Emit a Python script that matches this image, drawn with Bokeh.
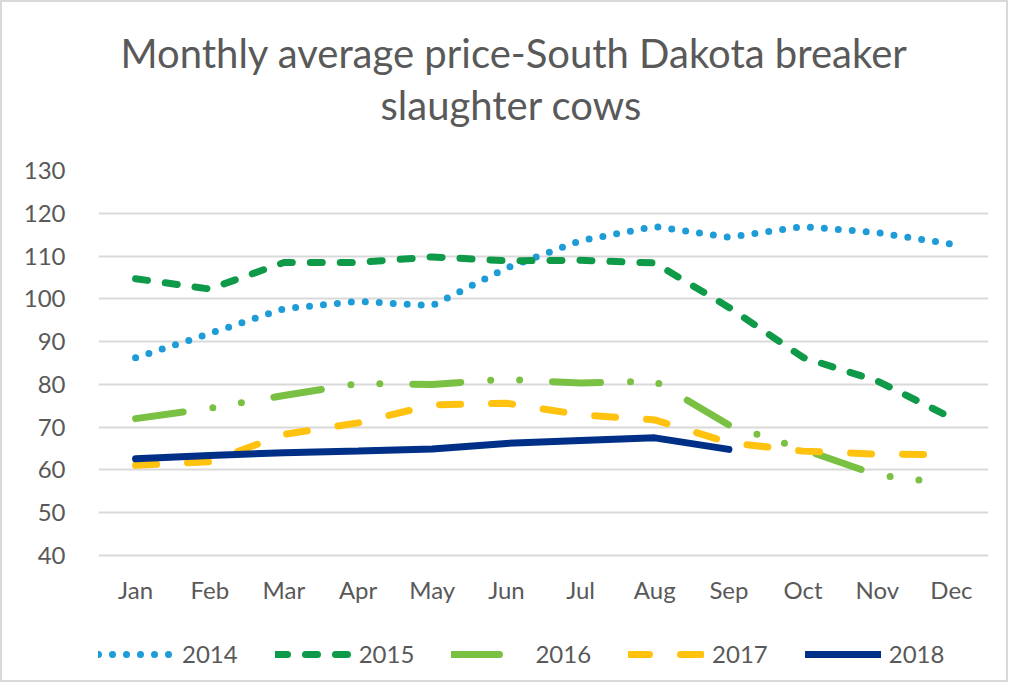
from bokeh.plotting import figure
from bokeh.models import FactorRange, Range1d, FixedTicker, Legend, LegendItem, Title
from bokeh.core.properties import value
from bokeh.embed import file_html
from bokeh.resources import INLINE

months = ["Jan", "Feb", "Mar", "Apr", "May", "Jun", "Jul", "Aug", "Sep", "Oct", "Nov", "Dec"]
y2014 = [86.2, 91.9, 97.7, 99.4, 98.4, 107.2, 113.6, 116.9, 114.4, 116.9, 115.5, 112.8]
y2015 = [104.7, 102.3, 108.5, 108.5, 109.8, 108.9, 109.0, 108.4, 98.0, 86.3, 80.8, 72.2]
y2016 = [72.0, 74.4, 77.4, 80.2, 80.0, 81.2, 80.3, 80.8, 70.5, 64.8, 58.8, 56.8]
y2017 = [61.1, 61.9, 68.3, 71.0, 75.2, 75.6, 72.9, 71.7, 66.4, 64.4, 63.7, 63.6]
y2018 = [62.6, 63.4, 64.0, 64.4, 64.9, 66.2, 66.9, 67.5, 64.8]
yticks = [40, 50, 60, 70, 80, 90, 100, 110, 120, 130]

TXT = "#595959"
FONT = "Lato"

# layout (pixels)
W, H = 1008, 682
TOP, BOTTOM_PAD = 168, 4
PLOT_H = 385                      # pixels between the 130 and 40 gridlines
frame_h = H - TOP - BOTTOM_PAD
units_per_px = (yticks[-1] - yticks[0]) / PLOT_H
y_start = yticks[0] - (frame_h - PLOT_H) * units_per_px

p = figure(x_range=FactorRange(*months), y_range=Range1d(y_start, yticks[-1]),
           width=W, height=H, output_backend="svg", toolbar_location=None,
           title=None, x_axis_location=None,
           min_border_left=96, min_border_right=22,
           min_border_top=TOP, min_border_bottom=BOTTOM_PAD,
           styles={"border": "2px solid #d9d9d9"})

spacer = Title(text=" ", text_font_size="1px", standoff=37)
t2 = Title(text="slaughter cows", align="left", offset=282, standoff=4,
           text_font=FONT, text_font_size="40px", text_font_style="normal", text_color=TXT)
t1 = Title(text="Monthly average price-South Dakota breaker", align="left", offset=22,
           standoff=0, text_font=FONT, text_font_size="40px", text_font_style="normal",
           text_color=TXT)
p.add_layout(spacer, "above")
p.add_layout(t2, "above")
p.add_layout(t1, "above")

r14 = p.line(months, y2014, line_color="#1E9CD7", line_width=7, line_dash="0 14", line_cap="round")
r15 = p.line(months, y2015, line_color="#0E9A48", line_width=7, line_dash="12 18", line_cap="round")
r16 = p.line(months, y2016, line_color="#7AC143", line_width=7, line_dash="48 30 0 29 0 33", line_cap="round")
r17 = p.line(months, y2017, line_color="#FFC20E", line_width=7, line_dash="21 31", line_cap="round")
r18 = p.line(months[:len(y2018)], y2018, line_color="#002F87", line_width=7, line_cap="round")

# category (month) labels, 34 px below the lowest gridline
label_y = yticks[0] - 34 * units_per_px
p.text(x=months, y=[label_y] * len(months), text=months,
       text_align="center", text_baseline="middle",
       text_font=value(FONT), text_font_size="24px", text_color=TXT)

p.yaxis.ticker = FixedTicker(ticks=yticks)
p.yaxis.axis_line_color = None
p.yaxis.major_tick_line_color = None
p.yaxis.minor_tick_line_color = None
p.yaxis.major_tick_in = 0
p.yaxis.major_tick_out = 0
p.yaxis.major_label_text_font = FONT
p.yaxis.major_label_text_font_size = "24px"
p.yaxis.major_label_text_color = TXT
p.yaxis.major_label_standoff = 33

p.xgrid.grid_line_color = None
p.ygrid.grid_line_color = "#d9d9d9"
p.ygrid.grid_line_width = 2
p.outline_line_color = None

legend = Legend(items=[LegendItem(label="2014", renderers=[r14]),
                       LegendItem(label="2015", renderers=[r15]),
                       LegendItem(label="2016", renderers=[r16]),
                       LegendItem(label="2017", renderers=[r17]),
                       LegendItem(label="2018", renderers=[r18])],
                orientation="horizontal", location=(0, 12),
                glyph_width=76, glyph_height=24, label_standoff=8, spacing=37,
                padding=0, margin=0, border_line_color=None, background_fill_alpha=0,
                label_text_font=FONT, label_text_font_size="24px", label_text_color=TXT)
p.add_layout(legend)

open("out.html", "w").write(file_html(p, INLINE))
